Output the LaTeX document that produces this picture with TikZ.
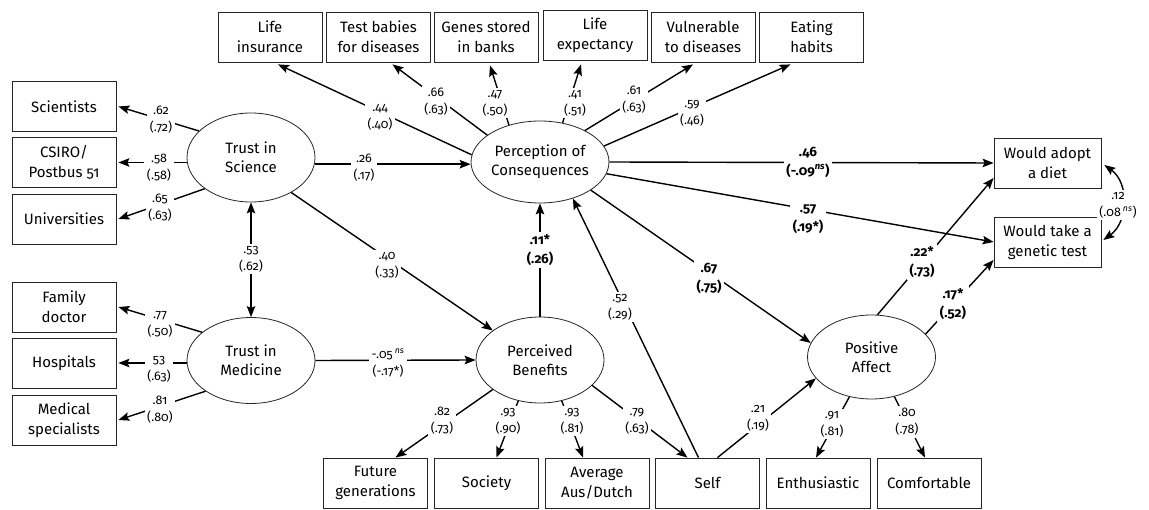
\documentclass[tikz,border=0pt]{standalone}
\usepackage{fontspec}
\setmainfont{Fira Sans}[Numbers=OldStyle]
\usetikzlibrary{arrows.meta,shapes.geometric,calc}
\begin{document}
\begin{tikzpicture}[x=1pt,y=-1pt,
  box/.style={draw=black!85, line width=0.8pt, minimum width=104pt, minimum height=50pt, align=center, inner sep=0pt, font=\fontsize{15}{20}\selectfont},
  rbox/.style={box, minimum width=107pt},
  lat/.style={ellipse, draw=black!85, line width=0.8pt, align=center, inner sep=0pt, minimum width=128pt, minimum height=86pt, font=\fontsize{15}{19}\selectfont},
  arr/.style={line width=1.4pt, -{Stealth[length=11pt,width=8.5pt,inset=2pt]}},
  barr/.style={line width=1.4pt, {Stealth[length=11pt,width=8.5pt,inset=2pt]}-{Stealth[length=11pt,width=8.5pt,inset=2pt]}},
  lab/.style={fill=white, align=center, inner sep=2.5pt, font=\fontsize{12.5}{17}\selectfont},
  blab/.style={fill=white, align=center, inner sep=2.5pt, font=\fontsize{13.5}{19}\selectfont\bfseries},
]
\useasboundingbox (0,0) rectangle (1149,510);
\fill[white] (0,0) rectangle (1149,510);

% top boxes
\node[box] (li) at (270,37) {Life\\insurance};
\node[box] (tb) at (378.5,37) {Test babies\\for diseases};
\node[box] (gs) at (486,37) {Genes stored\\in banks};
\node[box] (le) at (595,35) {Life\\expectancy};
\node[box] (vd) at (703,37) {Vulnerable\\to diseases};
\node[box] (eh) at (811.5,37) {Eating\\habits};
% left boxes
\node[box] (sc) at (64,106.5) {Scientists};
\node[box] (cs) at (64,162.5) {CSIRO/\\Postbus 51};
\node[box] (un) at (64,219) {Universities};
\node[box] (fd) at (64,307) {Family\\doctor};
\node[box] (ho) at (64,363) {Hospitals};
\node[box] (ms) at (64,420) {Medical\\specialists};
% bottom boxes
\node[box] (fg) at (375.5,483) {Future\\generations};
\node[box] (so) at (486.5,483) {Society};
\node[box] (av) at (597,483) {Average\\Aus/Dutch};
\node[box] (se) at (707.5,483) {Self};
\node[box] (en) at (818,483) {Enthusiastic};
\node[box] (co) at (929,483) {Comfortable};
% right boxes
\node[rbox] (wa) at (1047.5,163) {Would adopt\\a diet};
\node[rbox] (wt) at (1047.5,242) {Would take a\\genetic test};
% latent variables
\node[lat, minimum height=89pt] (ts) at (251,157.5) {Trust in\\Science};
\node[lat] (tm) at (251,360.5) {Trust in\\Medicine};
\node[lat, minimum height=82pt] (pc) at (540,162) {Perception of\\Consequences};
\node[lat] (pb) at (540,360) {Perceived\\Benefits};
\node[lat, minimum height=84pt] (pa) at (871.5,357) {Positive\\Affect};

% connectors
\draw[arr] (pc.174) -- ([xshift=8pt,yshift=-2pt]li.south);
\draw[arr] (pc.153) -- ([xshift=14pt,yshift=-2pt]tb.south);
\draw[arr] (pc.130) -- ([xshift=4pt,yshift=-3pt]gs.south);
\draw[arr] (pc.60) -- ([xshift=-14pt,yshift=-4pt]le.south);
\draw[arr] (pc.35) -- ([xshift=-10pt,yshift=-2pt]vd.south);
\draw[arr] (pc.14) -- ([xshift=-21pt,yshift=-2pt]eh.south);

\draw[arr] (ts.153) -- ([xshift=2pt]sc.east);
\draw[arr] (ts.west |- cs.east) -- ([xshift=2pt]cs.east);
\draw[arr] (ts.214) -- ([xshift=2pt]un.east);
\draw[arr] (tm.150) -- ([xshift=2pt]fd.east);
\draw[arr] (tm.west |- ho.east) -- ([xshift=2pt]ho.east);
\draw[arr] (tm.214) -- ([xshift=2pt]ms.east);

\draw[barr] (ts.south) -- (tm.north);
\draw[arr] (ts.-6) -- (pc.west |- ts.-6);
\draw[arr] (ts.-41) -- (pb.148);
\draw[arr] (tm.east) -- (pb.west);
\draw[arr] (pb.north) -- (pc.south);
\draw[arr] ([xshift=-9pt]se.north) -- (pc.-48);
\draw[arr] (pc.-29) -- (pa.167);
\draw[arr] (pc.east) -- (wa.west);
\draw[arr] (pc.-10) -- (wt.west);
\draw[arr] (pa.82) -- ([yshift=-15pt]wa.west);
\draw[arr] (pa.23) -- ([yshift=-18pt]wt.west);
\draw[barr] ([xshift=3pt,yshift=-2pt]wa.east) .. controls +(25,18) and +(25,-18) .. ([xshift=2pt,yshift=2pt]wt.east);

\draw[arr] (pb.212) -- ([xshift=20pt]fg.north);
\draw[arr] (pb.242) -- ([xshift=10pt]so.north);
\draw[arr] (pb.298) -- ([xshift=-14pt]av.north);
\draw[arr] (pb.-26) -- ([xshift=-20pt]se.north);
\draw[arr] ([xshift=10pt]se.north) -- (pa.201);
\draw[arr] (pa.241) -- ([xshift=-2pt]en.north);
\draw[arr] (pa.300) -- ([xshift=-4pt]co.north);

% labels
\node[lab] (lli) at (380,117) {.44\\(.40)};
\node[lab] (ltb) at (436,102) {.66\\(.63)};
\node[lab] (lgs) at (495,103) {.47\\(.50)};
\node[lab] (lle) at (575,103) {.41\\(.51)};
\node[lab] (lvd) at (634,100) {.61\\(.63)};
\node[lab] (leh) at (692,113) {.59\\(.46)};
\node[lab] (lsc) at (161,120) {.62\\(.72)};
\node[lab] (lcs) at (159,168) {.58\\(.58)};
\node[lab] (lun) at (160,208) {.65\\(.63)};
\node[lab] (lfd) at (160,324) {.77\\(.50)};
\node[lab] (lho) at (159,369) {53\\(.63)};
\node[lab] (lms) at (160,410) {.81\\(.80)};
\node[lab] (ltspc) at (364,168) {.26\\(.17)};
\node[lab] (ltspb) at (387,265) {.40\\(.33)};
\node[lab] (ltstm) at (251,259) {.53\\(.62)};
\node[lab] (ltmpb) at (388,363) {-.05\,\textsuperscript{\itshape ns}\\(-.17*)};
\node[blab] (lpbpc) at (540,250) {.11*\\(.26)};
\node[lab] (lsepc) at (620,307) {.52\\(.29)};
\node[blab] (lpcpa) at (709,278) {.67\\(.75)};
\node[blab] (lpcwa) at (808,162) {.46\\(-.09\textsuperscript{\itshape ns})};
\node[blab] (lpcwt) at (808,219) {.57\\(.19*)};
\node[blab] (lpawa) at (922,262) {.22*\\(.73)};
\node[blab] (lpawt) at (953,304) {.17*\\(.52)};
\node[lab] (lcov) at (1118,205) {.12\\(.08\,\textsuperscript{\itshape ns})};
\node[lab] (lfg) at (442,421) {.82\\(.73)};
\node[lab] (lso) at (508,421) {.93\\(.90)};
\node[lab] (lav) at (572,421) {.93\\(.81)};
\node[lab] (lse) at (637,421) {.79\\(.63)};
\node[lab] (lsepa) at (758,418) {.21\\(.19)};
\node[lab] (len) at (832,424) {.91\\(.81)};
\node[lab] (lco) at (907,422) {.80\\(.78)};
\end{tikzpicture}
\end{document}
